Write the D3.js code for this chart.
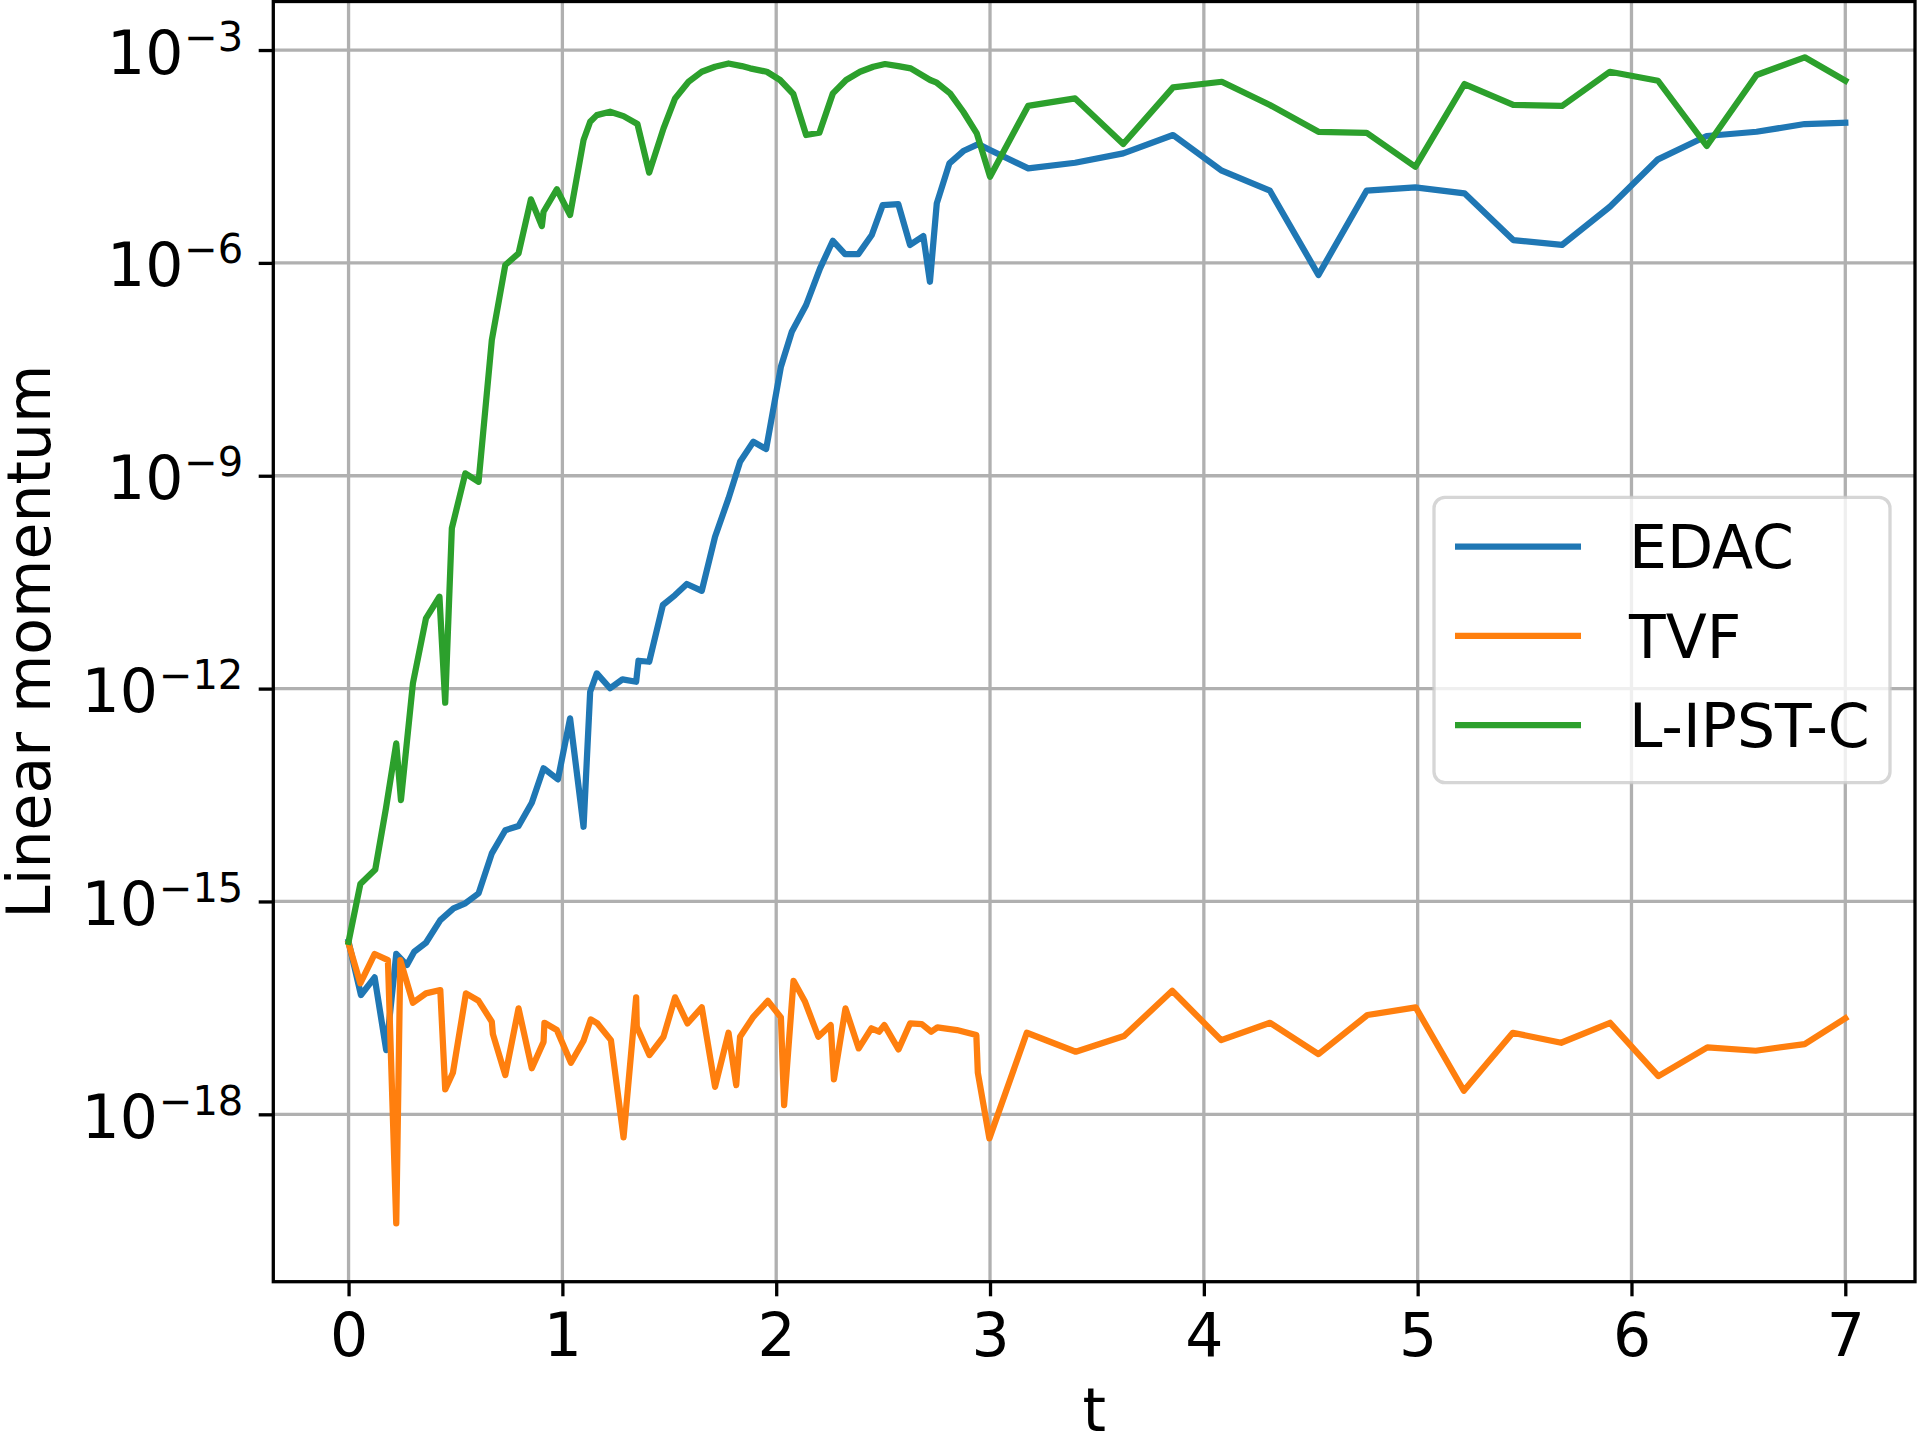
<!DOCTYPE html>
<html>
<head>
<meta charset="utf-8">
<script src="https://cdn.jsdelivr.net/npm/d3@7"></script>
<style>
  body { margin: 0; background: #fff; }
  svg { display: block; font-family: "DejaVu Sans", sans-serif; }
</style>
</head>
<body>
<svg id="chart" width="1920" height="1440"></svg>
<script>
// time points (t) and linear momentum values
var tEdac = [0, 0.058, 0.122, 0.176, 0.223, 0.273, 0.307, 0.362, 0.429, 0.491, 0.546, 0.608, 0.670, 0.733, 0.795, 0.857, 0.912, 0.979, 1.036, 1.099, 1.130, 1.161, 1.223, 1.281, 1.345, 1.356, 1.406, 1.470, 1.527, 1.582, 1.652, 1.714, 1.777, 1.831, 1.893, 1.953, 2.022, 2.073, 2.140, 2.205, 2.265, 2.322, 2.384, 2.447, 2.498, 2.571, 2.626, 2.688, 2.719, 2.751, 2.810, 2.875, 2.945, 3.0, 3.179, 3.398, 3.623, 3.856, 4.084, 4.309, 4.536, 4.761, 4.989, 5.219, 5.447, 5.675, 5.899, 6.124, 6.352, 6.585, 6.810, 7.0];
var edac = [2.70e-16, 4.80e-17, 8.51e-17, 8.05e-18, 1.82e-16, 1.27e-16, 1.95e-16, 2.62e-16, 5.47e-16, 8.0e-16, 9.4e-16, 1.30e-15, 4.76e-15, 1.01e-14, 1.16e-14, 2.46e-14, 7.52e-14, 5.26e-14, 3.81e-13, 1.13e-14, 9.04e-13, 1.64e-12, 1.01e-12, 1.35e-12, 1.25e-12, 2.47e-12, 2.39e-12, 1.51e-11, 2.08e-11, 2.98e-11, 2.39e-11, 1.38e-10, 4.80e-10, 1.57e-9, 3.01e-9, 2.38e-9, 3.44e-8, 1.07e-7, 2.55e-7, 8.38e-7, 2.05e-6, 1.33e-6, 1.33e-6, 2.47e-6, 6.53e-6, 6.75e-6, 1.79e-6, 2.39e-6, 5.42e-7, 6.90e-6, 2.53e-5, 3.77e-5, 4.73e-5, 3.90e-5, 2.15e-5, 2.58e-5, 3.50e-5, 6.34e-5, 1.99e-5, 1.04e-5, 6.75e-7, 1.04e-5, 1.16e-5, 9.55e-6, 2.10e-6, 1.79e-6, 6.18e-6, 2.88e-5, 6.14e-5, 7.05e-5, 9.06e-5, 9.45e-5];

var tTvf = [0, 0.055, 0.122, 0.184, 0.223, 0.242, 0.301, 0.362, 0.429, 0.452, 0.488, 0.549, 0.608, 0.670, 0.675, 0.733, 0.795, 0.857, 0.912, 0.916, 0.974, 1.040, 1.099, 1.133, 1.164, 1.227, 1.286, 1.345, 1.348, 1.407, 1.473, 1.527, 1.585, 1.652, 1.714, 1.777, 1.813, 1.831, 1.893, 1.961, 2.022, 2.037, 2.081, 2.135, 2.197, 2.255, 2.270, 2.324, 2.386, 2.445, 2.481, 2.506, 2.572, 2.626, 2.681, 2.725, 2.754, 2.845, 2.936, 2.943, 2.997, 3.172, 3.401, 3.627, 3.852, 4.081, 4.310, 4.536, 4.765, 4.991, 5.216, 5.445, 5.671, 5.900, 6.126, 6.355, 6.581, 6.810, 7.0];
var tvf = [2.56e-16, 7.02e-17, 1.82e-16, 1.49e-16, 2.90e-20, 1.49e-16, 3.73e-17, 5.07e-17, 5.64e-17, 2.25e-18, 3.85e-18, 5.07e-17, 3.98e-17, 2.02e-17, 1.35e-17, 3.57e-18, 3.11e-17, 4.45e-18, 1.05e-17, 1.95e-17, 1.54e-17, 5.33e-18, 1.09e-17, 2.18e-17, 1.91e-17, 1.11e-17, 4.73e-19, 4.45e-17, 1.71e-17, 6.84e-18, 1.24e-17, 4.45e-17, 1.91e-17, 3.21e-17, 2.44e-18, 1.41e-17, 2.58e-18, 1.24e-17, 2.37e-17, 3.98e-17, 2.32e-17, 1.35e-18, 7.62e-17, 3.85e-17, 1.24e-17, 1.81e-17, 3.11e-18, 3.11e-17, 8.49e-18, 1.63e-17, 1.46e-17, 1.81e-17, 8.22e-18, 1.91e-17, 1.87e-17, 1.46e-17, 1.68e-17, 1.54e-17, 1.31e-17, 3.85e-18, 4.58e-19, 1.41e-17, 7.62e-18, 1.27e-17, 5.51e-17, 1.11e-17, 1.95e-17, 7.06e-18, 2.51e-17, 3.21e-17, 2.15e-18, 1.41e-17, 1.02e-17, 1.95e-17, 3.46e-18, 8.79e-18, 7.87e-18, 9.77e-18, 2.25e-17];

var tLipst = [0, 0.055, 0.125, 0.175, 0.223, 0.245, 0.301, 0.362, 0.425, 0.452, 0.483, 0.546, 0.608, 0.670, 0.733, 0.795, 0.853, 0.904, 0.912, 0.974, 1.036, 1.099, 1.130, 1.161, 1.223, 1.286, 1.351, 1.406, 1.473, 1.527, 1.590, 1.652, 1.714, 1.777, 1.839, 1.878, 1.956, 2.018, 2.080, 2.140, 2.202, 2.265, 2.327, 2.392, 2.454, 2.509, 2.571, 2.629, 2.720, 2.751, 2.813, 2.875, 2.938, 3.0, 3.178, 3.398, 3.623, 3.856, 4.084, 4.309, 4.536, 4.761, 4.989, 5.219, 5.447, 5.675, 5.899, 6.124, 6.352, 6.585, 6.810, 7.0];
var lipst = [2.70e-16, 1.76e-15, 2.83e-15, 2.07e-14, 1.69e-13, 2.69e-14, 1.19e-12, 9.77e-12, 1.97e-11, 6.32e-13, 1.82e-10, 1.08e-9, 8.22e-10, 8.18e-8, 9.33e-7, 1.36e-6, 7.87e-6, 3.30e-6, 5.26e-6, 1.09e-5, 4.72e-6, 5.40e-5, 9.75e-5, 1.21e-4, 1.35e-4, 1.17e-4, 9.06e-5, 1.87e-5, 7.87e-5, 2.08e-4, 3.57e-4, 4.94e-4, 5.82e-4, 6.46e-4, 5.94e-4, 5.52e-4, 4.94e-4, 3.78e-4, 2.40e-4, 6.34e-5, 6.82e-5, 2.45e-4, 3.78e-4, 4.94e-4, 5.82e-4, 6.35e-4, 5.94e-4, 5.52e-4, 3.78e-4, 3.46e-4, 2.45e-4, 1.35e-4, 6.70e-5, 1.64e-5, 1.63e-4, 2.08e-4, 4.73e-5, 2.98e-4, 3.57e-4, 1.68e-4, 7.05e-5, 6.82e-5, 2.26e-5, 3.32e-4, 1.68e-4, 1.63e-4, 4.94e-4, 3.69e-4, 4.44e-5, 4.45e-4, 7.89e-4, 3.69e-4];

var seriesNames = ["EDAC", "TVF", "L-IPST-C"];
var seriesColors = ["#1f77b4", "#ff7f0e", "#2ca02c"];
var xTicks = [0, 1, 2, 3, 4, 5, 6, 7];
var yTicks = [1e-3, 1e-6, 1e-9, 1e-12, 1e-15, 1e-18];

var series = [
  { name: seriesNames[0], color: seriesColors[0], t: tEdac, v: edac },
  { name: seriesNames[1], color: seriesColors[1], t: tTvf, v: tvf },
  { name: seriesNames[2], color: seriesColors[2], t: tLipst, v: lipst }
];

// plot box (pixels)
var axLeft = 273.3, axRight = 1915, axTop = 1.5, axBottom = 1281.7;
var fontSize = 60;

var svg = d3.select("#chart");
svg.append("rect").attr("width", 1920).attr("height", 1440).attr("fill", "#fff");

var x = d3.scaleLinear().domain([-0.352, 7.326]).range([axLeft, axRight]);
var y = d3.scaleLog().domain([4.375e-21, 4.83e-3]).range([axBottom, axTop]);

// grid
var grid = svg.append("g").attr("class", "grid");
grid.selectAll(".gx").data(xTicks).enter().append("line")
    .attr("x1", d => x(d)).attr("x2", d => x(d))
    .attr("y1", axTop).attr("y2", axBottom)
    .attr("stroke", "#b0b0b0").attr("stroke-width", 3.3);
grid.selectAll(".gy").data(yTicks).enter().append("line")
    .attr("x1", axLeft).attr("x2", axRight)
    .attr("y1", d => y(d)).attr("y2", d => y(d))
    .attr("stroke", "#b0b0b0").attr("stroke-width", 3.3);

// lines
var line = d3.line()
    .x(d => x(d[0]))
    .y(d => y(d[1]));

series.forEach(function(s) {
  var pts = s.t.map((t, i) => [t, s.v[i]]);
  svg.append("path")
      .datum(pts)
      .attr("d", line)
      .attr("fill", "none")
      .attr("stroke", s.color)
      .attr("stroke-width", 6.25)
      .attr("stroke-linejoin", "round")
      .attr("stroke-linecap", "square");
});

// axes
var xAxis = svg.append("g")
    .attr("transform", "translate(0," + axBottom + ")")
    .call(d3.axisBottom(x).tickValues(xTicks).tickSize(14.6).tickSizeOuter(0).tickFormat(d3.format("d")));
xAxis.select(".domain").remove();
xAxis.selectAll(".tick line").attr("stroke", "#000").attr("stroke-width", 3.3);
xAxis.selectAll(".tick text")
    .attr("y", 74.3).attr("dy", 0)
    .attr("font-size", fontSize).attr("font-family", "DejaVu Sans").attr("fill", "#000");

var yAxis = svg.append("g")
    .attr("transform", "translate(" + axLeft + ",0)")
    .call(d3.axisLeft(y).tickValues(yTicks).tickSize(14.6).tickPadding(15.4).tickSizeOuter(0).tickFormat(() => ""));
yAxis.select(".domain").remove();
yAxis.selectAll(".tick line").attr("stroke", "#000").attr("stroke-width", 3.3);
yAxis.selectAll(".tick text")
    .attr("dy", null)
    .attr("font-family", "DejaVu Sans").attr("fill", "#000")
    .each(function(d) {
      var txt = d3.select(this);
      var ex = Math.round(Math.log10(d));
      txt.append("tspan").attr("font-size", fontSize).attr("dy", 23).text("10");
      txt.append("tspan").attr("font-size", 40).attr("dx", 1).attr("dy", -23).text("\u2212" + (-ex));
    });

// spines
svg.append("rect")
    .attr("x", axLeft).attr("y", axTop)
    .attr("width", axRight - axLeft).attr("height", axBottom - axTop)
    .attr("fill", "none").attr("stroke", "#000").attr("stroke-width", 3.3);

// axis labels
svg.append("text")
    .attr("x", (axLeft + axRight) / 2).attr("y", 1431)
    .attr("text-anchor", "middle")
    .attr("font-size", fontSize)
    .text("t");

svg.append("text")
    .attr("transform", "translate(50," + (axTop + axBottom) / 2 + ") rotate(-90)")
    .attr("text-anchor", "middle")
    .attr("font-size", fontSize)
    .text("Linear momentum");

// legend
var legend = svg.append("g").attr("transform", "translate(1434,497.3)");
legend.append("rect")
    .attr("width", 456).attr("height", 285.4)
    .attr("rx", 11).attr("ry", 11)
    .attr("fill", "#fff").attr("fill-opacity", 0.8)
    .attr("stroke", "#cccccc").attr("stroke-opacity", 0.8)
    .attr("stroke-width", 3.3);

var items = legend.selectAll(".item").data(series).enter().append("g")
    .attr("transform", (d, i) => "translate(0," + (49.4 + i * 89.2) + ")");
items.append("line")
    .attr("x1", 21).attr("x2", 147)
    .attr("stroke", d => d.color).attr("stroke-width", 6.25);
items.append("text")
    .attr("x", 195).attr("y", 21.6)
    .attr("font-size", fontSize)
    .text(d => d.name);
</script>
</body>
</html>
